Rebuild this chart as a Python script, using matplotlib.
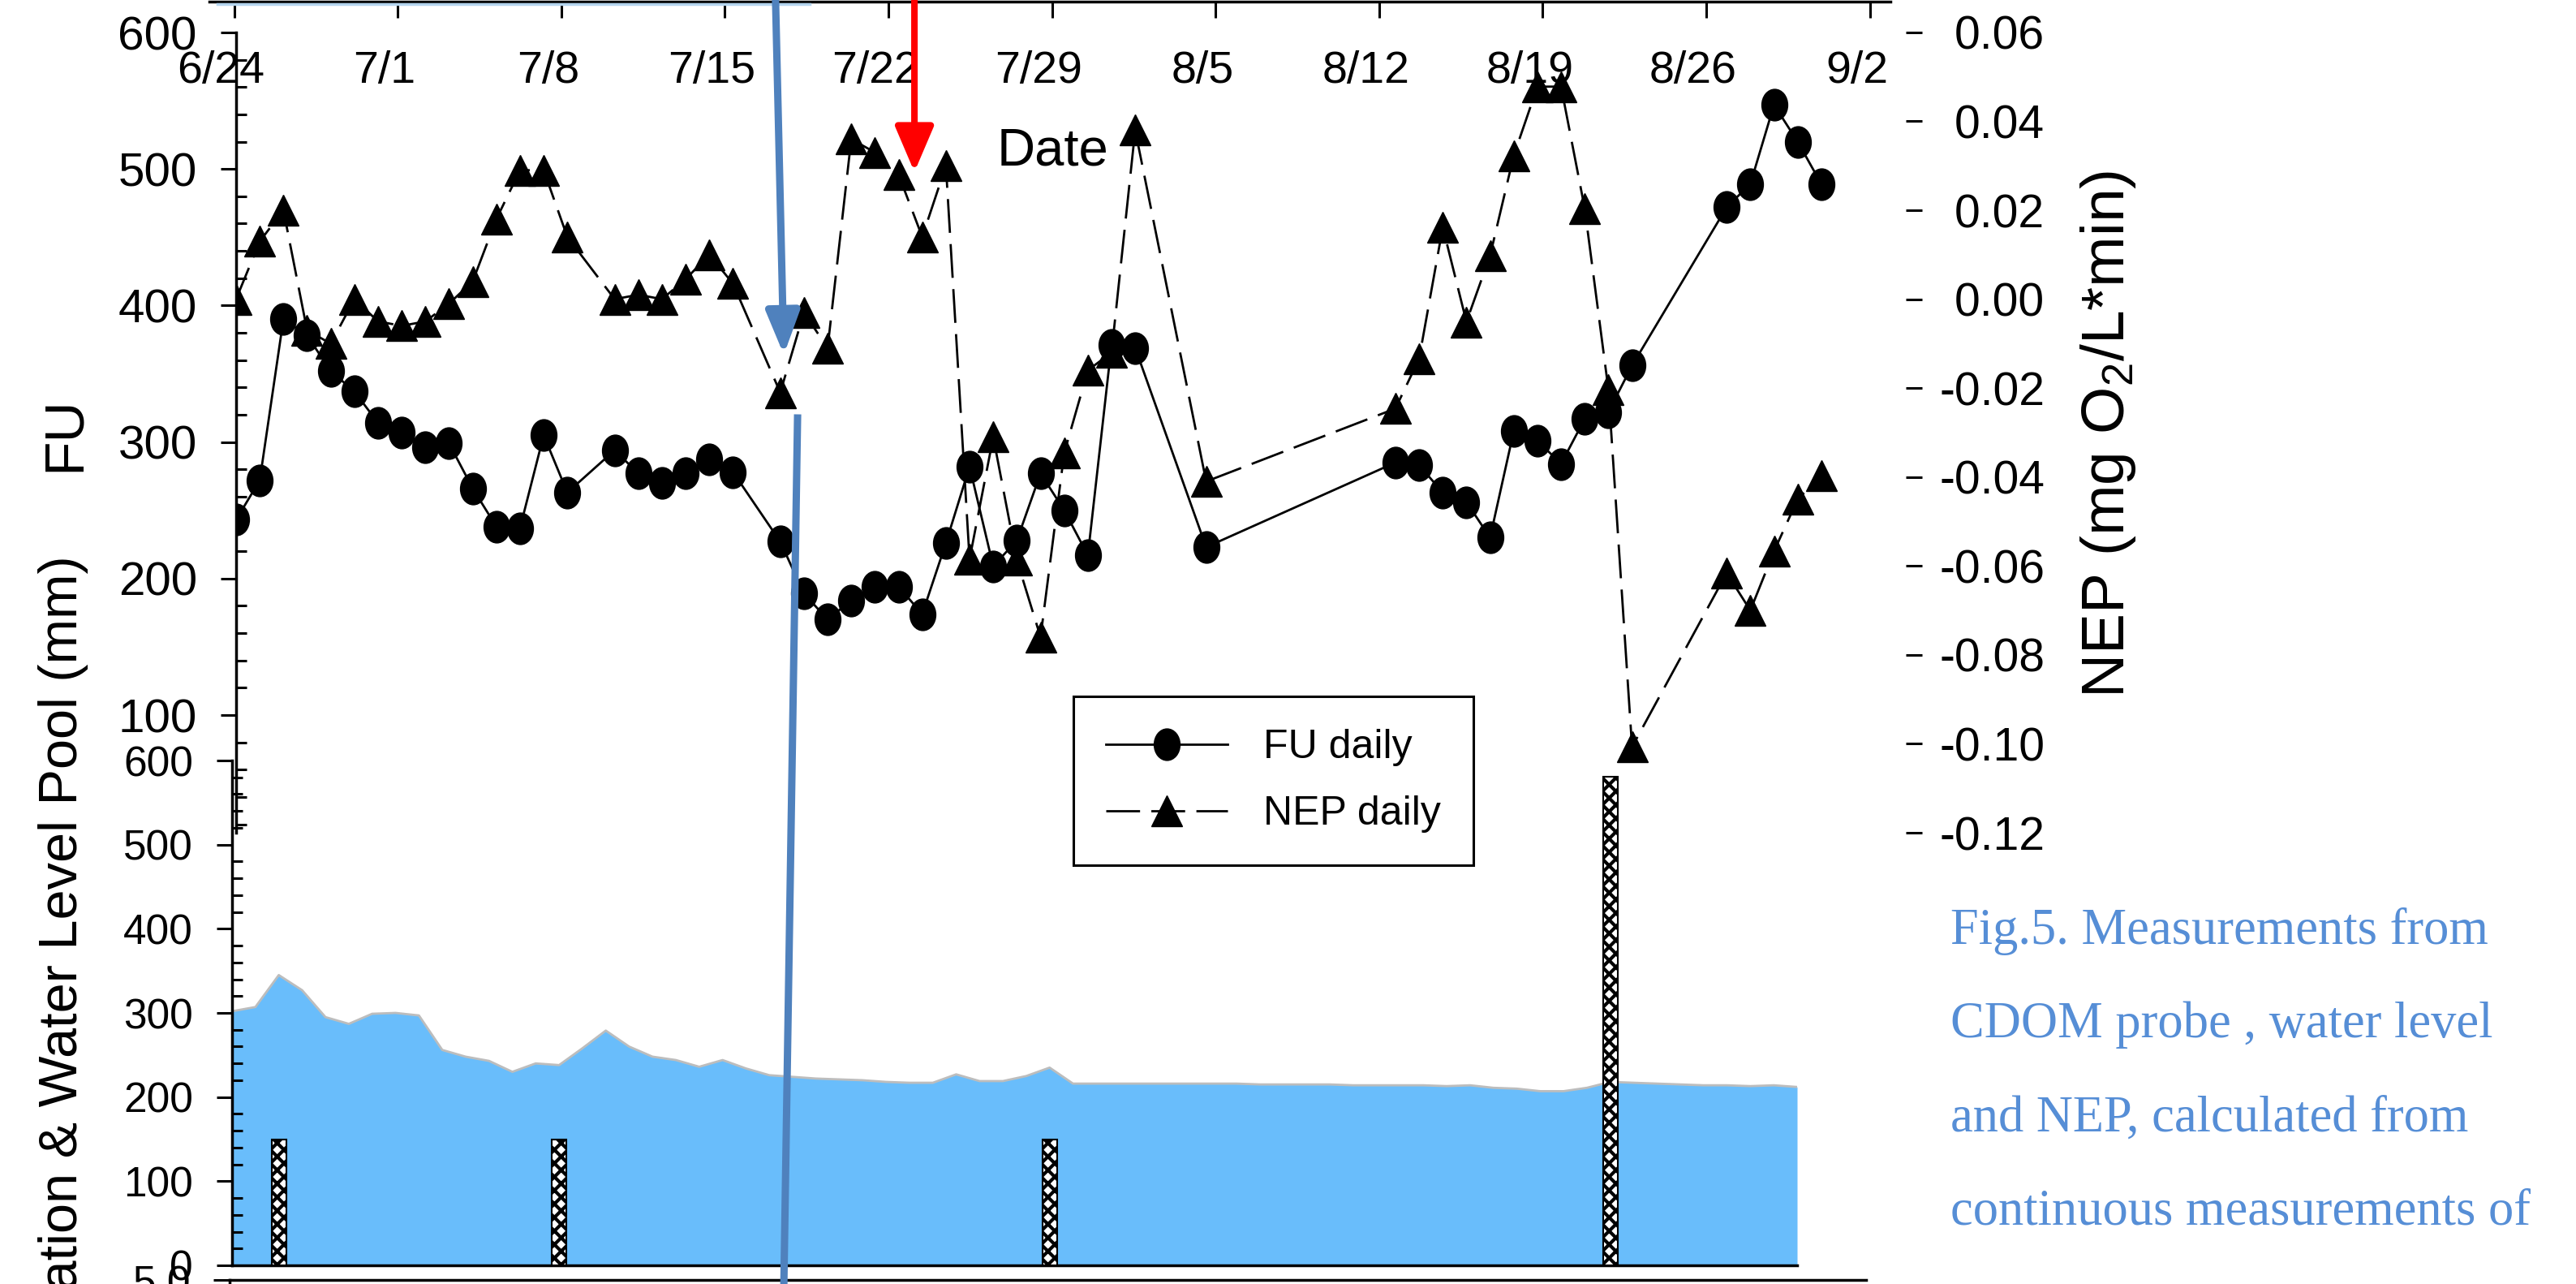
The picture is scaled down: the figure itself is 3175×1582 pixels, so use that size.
import matplotlib
matplotlib.use("Agg")
import matplotlib.pyplot as plt
import numpy as np
from matplotlib.markers import MarkerStyle
from matplotlib.transforms import Affine2D
from matplotlib.lines import Line2D
from matplotlib.patches import FancyArrowPatch
from matplotlib.ticker import FixedLocator, FuncFormatter

plt.rcParams['font.family'] = ['Liberation Sans', 'DejaVu Sans']
plt.rcParams['mathtext.default'] = 'regular'
plt.rcParams['hatch.linewidth'] = 3.0

# x values are days after 6/24
date_ticks = [0, 7, 14, 21, 28, 35, 42, 49, 56, 63, 70]
date_labels = ['6/24', '7/1', '7/8', '7/15', '7/22', '7/29', '8/5', '8/12', '8/19', '8/26', '9/2']

day = [0, 1, 2, 3, 4, 5, 6, 7, 8, 9, 10, 11, 12, 13, 14, 16, 17, 18, 19, 20, 21,
       23, 24, 25, 26, 27, 28, 29, 30, 31, 32, 33, 34, 35, 36, 37, 38, 41,
       49, 50, 51, 52, 53, 54, 55, 56, 57, 58, 59, 63, 64, 65, 66, 67]
fu = [243, 272, 390, 378, 352, 337, 314, 307, 296, 299, 266, 238, 237, 305, 263,
      294, 277, 270, 277, 287, 278,
      227, 189, 170, 184, 194, 194, 174, 226, 282, 209, 228, 277, 250, 217, 371, 369,
      223,
      285, 283, 263, 256, 230, 308, 301, 284, 317, 322, 356,
      472, 489, 547, 520, 489]
nep = [0.000, 0.013, 0.020, -0.007, -0.010, 0.000, -0.005, -0.006, -0.005, -0.001,
       0.004, 0.018, 0.029, 0.029, 0.014,
       0.000, 0.001, 0.000, 0.0045, 0.010, 0.0035,
       -0.021, -0.003, -0.011, 0.036, 0.033, 0.028, 0.014, 0.030, -0.0585, -0.031,
       -0.0587, -0.076, -0.0346, -0.016, -0.012, 0.038,
       -0.041,
       -0.0246, -0.0134, 0.0162, -0.0051, 0.0098, 0.0323, 0.0478, 0.0478, 0.0204,
       -0.0203, -0.1007,
       -0.0616, -0.070, -0.0567, -0.045, -0.0396]

# daily water level 6/24 .. 8/30
water_day = list(range(68))
water = [302, 307, 345, 327, 295, 287, 299, 300, 297, 256, 248, 243, 230, 240, 238,
         258, 279, 260, 248, 244, 236, 244, 234, 226, 224, 222, 221, 220, 218, 217,
         217, 227, 219, 219, 225, 235, 216, 216, 216, 216, 216, 216, 216, 216, 215,
         215, 215, 215, 214, 214, 214, 214, 213, 214, 211, 210, 207, 207, 211, 218,
         217, 216, 215, 214, 214, 213, 214, 212]
rain_day = [2, 14, 35, 59]
rain = [150, 150, 150, 581]

fu_ticks = [100, 200, 300, 400, 500, 600]
nep_ticks = [-0.12, -0.10, -0.08, -0.06, -0.04, -0.02, 0.00, 0.02, 0.04, 0.06]
level_ticks = [0, 100, 200, 300, 400, 500, 600]

caption = ['Fig.5. Measurements from', 'CDOM probe , water level',
           'and NEP, calculated from', 'continuous measurements of']

W, H = 3175, 1582
fig = plt.figure(figsize=(W / 100, H / 100), dpi=100)


def box(l, t, r, b):
    return [l / W, 1 - b / H, (r - l) / W, (b - t) / H]


circ = MarkerStyle('o', transform=Affine2D().scale(0.82, 1.0))
tri = MarkerStyle('^')

# ---- upper panel: FU and NEP
ax = fig.add_axes(box(291, 1, 2330, 1026))
ax2 = ax.twinx()
ax.set_zorder(ax2.get_zorder() + 1)
ax.patch.set_visible(False)

ax.set_xlim(0, 69.92)
ax.set_ylim(13.8, 623.2)
ax2.set_ylim(-0.12, 0.0671)

l1, = ax.plot(day, fu, color='k', lw=2, marker=circ, ms=28, label='FU daily')
l2, = ax2.plot(day, nep, color='k', lw=2, dashes=(15, 5), marker=tri, ms=27.5,
               label='NEP daily')

for s in ['top', 'right', 'bottom']:
    ax.spines[s].set_visible(False)
    ax2.spines[s].set_visible(False)
ax2.spines['left'].set_visible(False)
ax.spines['left'].set_linewidth(2.5)
ax.spines['left'].set_bounds(13.8, 600)
ax2.spines['right'].set_linewidth(2.5)
ax2.spines['right'].set_position(('outward', 13.7))
ax2.spines['right'].set_bounds(-0.12, 0.06)

ax.tick_params(axis='x', bottom=False, labelbottom=False)
ax2.tick_params(axis='x', bottom=False, labelbottom=False, top=False)
ax.set_yticks(fu_ticks)
ax.yaxis.set_minor_locator(FixedLocator(np.arange(20, 600, 20)))
ax.tick_params(axis='y', which='major', direction='out', length=13.7, width=2.2,
               labelsize=42, pad=21)
ax.tick_params(axis='y', which='minor', direction='in', length=9.4, width=2.2)

ax2.set_yticks(nep_ticks)
ax2.yaxis.set_major_formatter(FuncFormatter(lambda v, p: f"{v:.2f}".replace('-0.00', '0.00')))
ax2.tick_params(axis='y', direction='out', length=14.4, width=2.2, labelsize=41, pad=108.7)
for t in ax2.get_yticklabels():
    t.set_ha('right')

ax.set_ylabel('FU', fontsize=50, va='center')
ax.yaxis.set_label_coords((80 - 291) / 2039, (1026 - 535) / 1025)
ax2.set_ylabel(r'NEP (mg O$_2$/L*min)', fontsize=54, va='center')
ax2.yaxis.set_label_coords((2598 - 291) / 2039, (1026 - 535) / 1025)

leg = ax.legend([l1, l2], ['FU daily', 'NEP daily'], loc='upper left',
                bbox_to_anchor=(1323 / W, 1 - 858 / H), bbox_transform=fig.transFigure,
                borderaxespad=0, borderpad=0.8, handlelength=3.0, handletextpad=0.88,
                labelspacing=0.72, fontsize=36, fancybox=False, framealpha=1,
                edgecolor='black')
leg.get_frame().set_linewidth(2.2)

# ---- date axis along the top
axd = fig.add_axes(box(258, -60, 2330, 2))
axd.patch.set_visible(False)
axd.set_xlim((258 - 288.5) / 28.8, (2330 - 288.5) / 28.8)
for s in ['top', 'right', 'left']:
    axd.spines[s].set_visible(False)
axd.spines['bottom'].set_linewidth(2.5)
axd.set_yticks([])
axd.set_xticks(date_ticks)
axd.tick_params(axis='x', which='major', direction='out', length=14.4, width=2.2,
                labelbottom=False)
axd.set_xticks([t - 16 / 28.8 for t in date_ticks], minor=True)
axd.set_xticklabels(date_labels, minor=True)
axd.tick_params(axis='x', which='minor', length=0, labelsize=40, pad=43)
fig.text(1297 / W, 1 - 203 / H, 'Date', fontsize=47, ha='center', va='baseline')

# ---- lower panel: precipitation and water level
axw = fig.add_axes(box(286, 937, 2215, 1559))
axw.patch.set_visible(False)
axw.set_xlim(0, 67)
axw.set_ylim(0, 600)
axw.fill_between(water_day, 0, water, color='#69BDFB', lw=0)
axw.plot(water_day, water, color='#BDBDBD', lw=2)
axw.bar(rain_day, rain, width=0.62, color='white', edgecolor='black', hatch='xx',
        lw=1.5, zorder=3)
for s in ['top', 'right']:
    axw.spines[s].set_visible(False)
for s in ['left', 'bottom']:
    axw.spines[s].set_linewidth(2.5)
axw.tick_params(axis='x', bottom=False, labelbottom=False)
axw.set_yticks(level_ticks)
axw.yaxis.set_minor_locator(FixedLocator(np.arange(20, 600, 20)))
axw.tick_params(axis='y', which='major', direction='out', length=13.7, width=2.2,
                labelsize=37, pad=21)
axw.tick_params(axis='y', which='minor', direction='in', length=9.4, width=2.2)
axw.set_ylabel('Precipitation & Water Level Pool (mm)', fontsize=48, va='center')
axw.yaxis.set_label_coords((78 - 286) / 1929, 0.5)

# ---- top of the next panel, cut by the page edge
ax3 = fig.add_axes([283 / W, -0.2, (2300 - 283) / W, 0.2 + 1 - 1577 / H])
ax3.patch.set_visible(False)
ax3.set_ylim(0, 5)
ax3.set_yticks([0, 1, 2, 3, 4, 5])
ax3.yaxis.set_major_formatter(FuncFormatter(lambda v, p: f"{v:.1f}"))
for s in ['bottom', 'right']:
    ax3.spines[s].set_visible(False)
for s in ['left', 'top']:
    ax3.spines[s].set_linewidth(2.5)
ax3.tick_params(axis='x', bottom=False, labelbottom=False)
ax3.tick_params(axis='y', direction='out', length=14.4, width=2.2, labelsize=37, pad=20)

# ---- event arrows
blue = '#4F81BD'
fig.add_artist(FancyArrowPatch((22.8, 0.0673), (23.15, -0.0125), transform=ax2.transData,
                               arrowstyle='-|>,head_length=32,head_width=12.5',
                               mutation_scale=1, lw=6.5, color=blue, shrinkA=0, shrinkB=0,
                               zorder=10))
fig.add_artist(FancyArrowPatch((28.67, 0.0673), (28.67, 0.0286), transform=ax2.transData,
                               arrowstyle='-|>,head_length=34,head_width=14.5',
                               mutation_scale=1, lw=5.8, color='#FF0000', shrinkA=0,
                               shrinkB=0, zorder=10))
fig.add_artist(Line2D([23.73, 23.12], [317.6, -351.2], transform=ax.transData,
                      color=blue, lw=6.5, zorder=10))
fig.add_artist(Line2D([268 / W, 998 / W], [1 - 5 / H, 1 - 5 / H], transform=fig.transFigure,
                      color='#B4D4EE', lw=2.5, zorder=1))

for i, line in enumerate(caption):
    fig.text(2404 / W, 1 - (1163 + 115.3 * i) / H, line, fontsize=45,
             family='Liberation Serif', color='#568ED6', ha='left', va='baseline')

fig.savefig('out.png', dpi=100)
